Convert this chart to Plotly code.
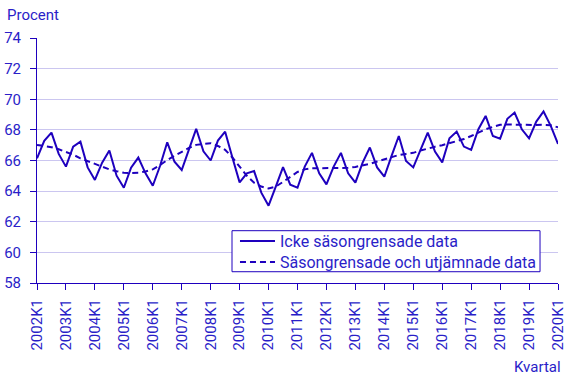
import plotly.graph_objects as go

years = list(range(2002, 2021))
quarters = [f"{y}K{q}" for y in years for q in (1, 2, 3, 4)][:73]
year_ticks = [f"{y}K1" for y in years]

icke = [
    66.14, 67.28, 67.82, 66.43,
    65.60, 66.91, 67.23, 65.55,
    64.73, 65.86, 66.65, 65.01,
    64.22, 65.53, 66.19, 65.16,
    64.35, 65.64, 67.19, 65.92,
    65.38, 66.70, 68.07, 66.60,
    66.00, 67.30, 67.88, 66.20,
    64.57, 65.16, 65.31, 63.90,
    63.05, 64.30, 65.57, 64.42,
    64.22, 65.60, 66.50, 65.16,
    64.44, 65.60, 66.50, 65.16,
    64.55, 65.86, 66.85, 65.55,
    64.94, 66.30, 67.60, 65.97,
    65.55, 66.69, 67.82, 66.58,
    65.88, 67.45, 67.89, 66.91,
    66.69, 68.04, 68.91, 67.60,
    67.43, 68.72, 69.13, 68.04,
    67.45, 68.54, 69.20, 68.26,
    67.08,
]

sasong = [
    67.02, 66.95, 66.87, 66.73,
    66.58, 66.38, 66.14, 65.95,
    65.75, 65.58, 65.42, 65.30,
    65.20, 65.18, 65.20, 65.28,
    65.42, 65.70, 66.03, 66.30,
    66.58, 66.82, 67.02, 67.10,
    67.13, 66.95, 66.70, 66.20,
    65.60, 65.00, 64.55, 64.30,
    64.17, 64.30, 64.60, 64.95,
    65.25, 65.42, 65.50, 65.50,
    65.50, 65.50, 65.50, 65.52,
    65.58, 65.68, 65.78, 65.93,
    66.08, 66.22, 66.36, 66.43,
    66.50, 66.65, 66.80, 66.90,
    67.00, 67.12, 67.23, 67.40,
    67.60, 67.83, 68.04, 68.20,
    68.33, 68.35, 68.33, 68.32,
    68.30, 68.32, 68.33, 68.30,
    68.17,
]

series_names = ["Icke säsongrensade data", "Säsongrensade och utjämnade data"]
y_ticks = [58, 60, 62, 64, 66, 68, 70, 72, 74]

BLUE = "#1e00be"
TEXT = "#2a1ec8"
GRID = "#cbc6f0"
FONT = "Roboto, Arial, sans-serif"
DASH = "6px,4px"

fig = go.Figure()
fig.add_trace(go.Scatter(
    x=quarters, y=icke, mode="lines", name=series_names[0],
    line=dict(color=BLUE, width=2), showlegend=False,
))
fig.add_trace(go.Scatter(
    x=quarters, y=sasong, mode="lines", name=series_names[1],
    line=dict(color=BLUE, width=2, dash=DASH), showlegend=False,
))

# Manual legend (paper coordinates)
lx0, lx1, ly0, ly1 = 0.3743, 0.9655, 0.046, 0.2135
sx0, sx1, tx = 0.3896, 0.4568, 0.4626
rows = [0.1714, 0.0857]
shapes = [dict(type="rect", xref="paper", yref="paper", x0=lx0, x1=lx1, y0=ly0, y1=ly1,
               line=dict(color=BLUE, width=1), fillcolor="white", layer="above")]
annotations = []
for i, (name, dash) in enumerate(zip(series_names, ["solid", DASH])):
    shapes.append(dict(type="line", xref="paper", yref="paper", x0=sx0, x1=sx1,
                       y0=rows[i], y1=rows[i], line=dict(color=BLUE, width=2, dash=dash),
                       layer="above"))
    annotations.append(dict(text=name, xref="paper", yref="paper", x=tx, y=rows[i],
                            xanchor="left", yanchor="middle", showarrow=False,
                            font=dict(family=FONT, size=16, color=TEXT)))

annotations += [
    dict(text="Procent", xref="paper", yref="paper",
         x=-0.062, y=1.094, xanchor="left", yanchor="middle",
         showarrow=False, font=dict(family=FONT, size=15, color=TEXT)),
    dict(text="Kvartal", xref="paper", yref="paper",
         x=1.01, y=-0.343, xanchor="right", yanchor="middle",
         showarrow=False, font=dict(family=FONT, size=15, color=TEXT)),
]

fig.update_layout(
    width=568, height=379,
    margin=dict(l=37, r=10, t=38, b=96, autoexpand=False),
    paper_bgcolor="white", plot_bgcolor="white",
    font=dict(family=FONT, size=15, color=TEXT),
    showlegend=False,
    xaxis=dict(
        type="category", categoryorder="array", categoryarray=quarters,
        range=[0, len(quarters) - 1], automargin=False,
        tickvals=year_ticks, ticktext=year_ticks, tickangle=-90,
        showgrid=False, showline=True, linecolor=BLUE, linewidth=1,
        ticks="outside", ticklen=6, tickcolor=BLUE, ticklabelstandoff=3,
        tickfont=dict(family=FONT, size=15, color=TEXT),
        zeroline=False,
    ),
    yaxis=dict(
        range=[58, 74], tickvals=y_ticks, automargin=False,
        showgrid=True, gridcolor=GRID, gridwidth=1,
        showline=True, linecolor=BLUE, linewidth=1,
        ticks="outside", ticklen=6, tickcolor=BLUE, ticklabelstandoff=6,
        tickfont=dict(family=FONT, size=15, color=TEXT),
        zeroline=False,
    ),
    shapes=shapes,
    annotations=annotations,
)

fig.write_html(
    "out.html",
    config={"displayModeBar": False, "responsive": False},
    post_script="document.body.style.margin='0';document.body.style.overflow='hidden';",
)
